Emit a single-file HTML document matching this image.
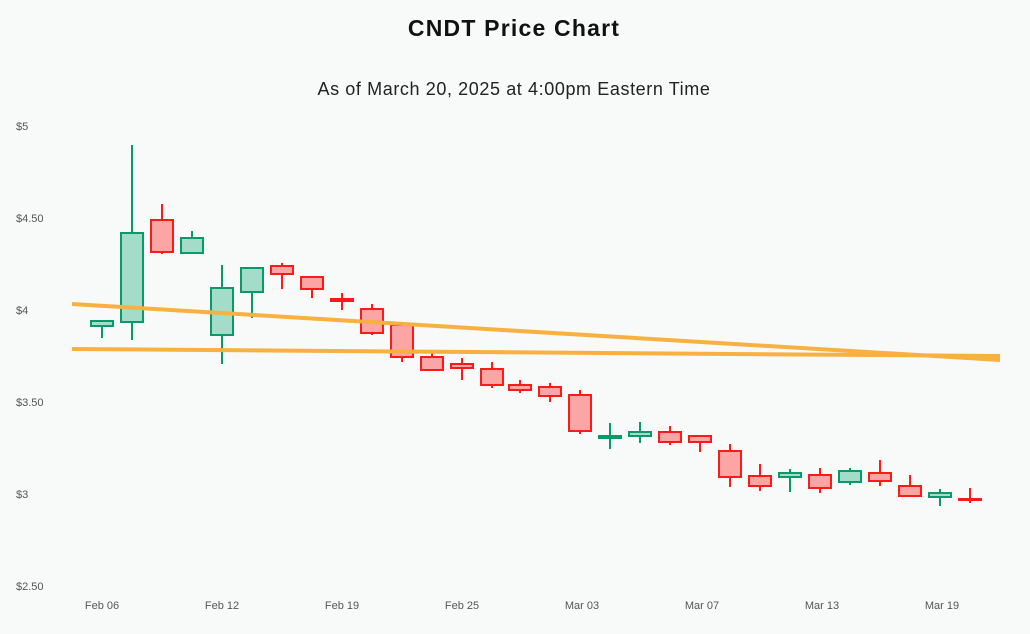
<!DOCTYPE html>
<html><head><meta charset="utf-8"><style>
html,body{margin:0;padding:0;background:#f8f9f9;}
</style></head><body>
<svg width="1030" height="629" xmlns="http://www.w3.org/2000/svg" font-family="Liberation Sans, sans-serif">
<rect width="1030" height="629" fill="#f8f9f9"/>
<text x="514" y="36" text-anchor="middle" font-size="23" font-weight="bold" letter-spacing="1.2" fill="#111">CNDT Price Chart</text>
<text x="514" y="95" text-anchor="middle" font-size="18" letter-spacing="0.6" fill="#222">As of March 20, 2025 at 4:00pm Eastern Time</text>
<g font-size="11" fill="#555">
<text x="16" y="130">$5</text><text x="16" y="222">$4.50</text><text x="16" y="314">$4</text>
<text x="16" y="406">$3.50</text><text x="16" y="498">$3</text><text x="16" y="590">$2.50</text>
</g>
<g font-size="11" fill="#555" text-anchor="middle">
<text x="102" y="609">Feb 06</text><text x="222" y="609">Feb 12</text><text x="342" y="609">Feb 19</text>
<text x="462" y="609">Feb 25</text><text x="582" y="609">Mar 03</text><text x="702" y="609">Mar 07</text>
<text x="822" y="609">Mar 13</text><text x="942" y="609">Mar 19</text>
</g>
<g stroke-width="2" stroke="#0a9a6a" fill="#a3dcc8">
<line x1="102" y1="320" x2="102" y2="338"/><rect x="91" y="321" width="22" height="5"/>
<line x1="132" y1="145" x2="132" y2="340"/><rect x="121" y="233" width="22" height="89"/>
<line x1="192" y1="231" x2="192" y2="254"/><rect x="181" y="238" width="22" height="15"/>
<line x1="222" y1="265" x2="222" y2="364"/><rect x="211" y="288" width="22" height="47"/>
<line x1="252" y1="268" x2="252" y2="318"/><rect x="241" y="268" width="22" height="24"/>
<line x1="610" y1="423" x2="610" y2="449"/><rect x="599" y="436" width="22" height="2"/>
<line x1="640" y1="422" x2="640" y2="443"/><rect x="629" y="432" width="22" height="4"/>
<line x1="790" y1="469" x2="790" y2="492"/><rect x="779" y="473" width="22" height="4"/>
<line x1="850" y1="468" x2="850" y2="485"/><rect x="839" y="471" width="22" height="11"/>
<line x1="940" y1="489" x2="940" y2="506"/><rect x="929" y="493" width="22" height="4"/>
</g>
<g stroke-width="2" stroke="#ff1a1a" fill="#fca5a5">
<line x1="162" y1="204" x2="162" y2="254"/><rect x="151" y="220" width="22" height="32"/>
<line x1="282" y1="263" x2="282" y2="289"/><rect x="271" y="266" width="22" height="8"/>
<line x1="312" y1="277" x2="312" y2="298"/><rect x="301" y="277" width="22" height="12"/>
<line x1="342" y1="293" x2="342" y2="310"/><rect x="331" y="299" width="22" height="2"/>
<line x1="372" y1="304" x2="372" y2="335"/><rect x="361" y="309" width="22" height="24"/>
<line x1="402" y1="322" x2="402" y2="362"/><rect x="391" y="325" width="22" height="32"/>
<line x1="432" y1="350" x2="432" y2="370"/><rect x="421" y="357" width="22" height="13"/>
<line x1="462" y1="358" x2="462" y2="380"/><rect x="451" y="364" width="22" height="4"/>
<line x1="492" y1="362" x2="492" y2="388"/><rect x="481" y="369" width="22" height="16"/>
<line x1="520" y1="380" x2="520" y2="393"/><rect x="509" y="385" width="22" height="5"/>
<line x1="550" y1="383" x2="550" y2="402"/><rect x="539" y="387" width="22" height="9"/>
<line x1="580" y1="390" x2="580" y2="434"/><rect x="569" y="395" width="22" height="36"/>
<line x1="670" y1="426" x2="670" y2="445"/><rect x="659" y="432" width="22" height="10"/>
<line x1="700" y1="435" x2="700" y2="452"/><rect x="689" y="436" width="22" height="6"/>
<line x1="730" y1="444" x2="730" y2="487"/><rect x="719" y="451" width="22" height="26"/>
<line x1="760" y1="464" x2="760" y2="491"/><rect x="749" y="476" width="22" height="10"/>
<line x1="820" y1="468" x2="820" y2="493"/><rect x="809" y="475" width="22" height="13"/>
<line x1="880" y1="460" x2="880" y2="486"/><rect x="869" y="473" width="22" height="8"/>
<line x1="910" y1="475" x2="910" y2="496"/><rect x="899" y="486" width="22" height="10"/>
<line x1="970" y1="488" x2="970" y2="503"/><rect x="959" y="499" width="22" height="1"/>
</g>
<line x1="72" y1="304" x2="1000" y2="360" stroke="#f8b040" stroke-width="4"/>
<line x1="72" y1="349" x2="1000" y2="356" stroke="#f8b040" stroke-width="4"/>
</svg>
</body></html>
